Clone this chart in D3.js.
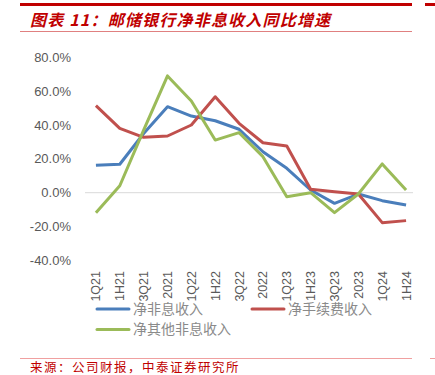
<!DOCTYPE html>
<html>
<head>
<meta charset="utf-8">
<style>
  body { margin: 0; background: #fff; font-family: "Liberation Sans", "Noto Sans CJK SC", sans-serif; }
</style>
<title>邮储银行净非息收入同比增速</title>
</head>
<body>
<script src="https://cdn.jsdelivr.net/npm/d3@7"></script>
<script>

// data (% yoy)
var periods = ["1Q21","1H21","3Q21","2021","1Q22","1H22","3Q22","2022","1Q23","1H23","3Q23","2023","1Q24","1H24"];
var nonInterest = [16.2, 16.8, 35.0, 50.8, 45.3, 42.5, 37.5, 24.2, 14.4, 1.6, -6.3, -0.8, -4.7, -7.3];
var feeIncome   = [51.4, 38.0, 32.7, 33.5, 40.0, 56.7, 41.0, 29.5, 27.6, 2.0, 0.6, -0.8, -17.7, -16.5];
var otherIncome = [-11.8, 4.1, 37.0, 69.0, 54.2, 31.1, 35.5, 21.3, -2.4, 0.0, -11.8, -0.8, 17.0, 1.6];
var yTicks = [-40, -20, 0, 20, 40, 60, 80];
var seriesNames = ["净非息收入", "净手续费收入", "净其他非息收入"];

var W = 435, H = 375;
var svg = d3.select("body").append("svg")
  .attr("width", W)
  .attr("height", H);

// header
svg.append("rect").attr("x", 20).attr("y", 3).attr("width", 392).attr("height", 3).attr("fill", "#c00000");
svg.append("rect").attr("x", 425).attr("y", 3).attr("width", 10).attr("height", 3).attr("fill", "#c00000");
svg.append("line").attr("x1", 20).attr("x2", 412).attr("y1", 31.5).attr("y2", 31.5)
  .attr("stroke", "#e08080").attr("stroke-width", 1);
svg.append("text")
  .attr("x", 30).attr("y", 26)
  .attr("fill", "#c00000")
  .style("font-family", "'Noto Sans CJK SC', sans-serif")
  .style("font-size", "16px").style("font-weight", "bold").style("font-style", "italic")
  .style("letter-spacing", "1.2px")
  .text("图表 11：邮储银行净非息收入同比增速");

var x = d3.scalePoint().domain(periods).range([84, 418]).padding(0.5);
var y = d3.scaleLinear().domain([-40, 80]).range([260.4, 57.3]);

// zero line
svg.append("line")
  .attr("x1", 85).attr("x2", 413)
  .attr("y1", y(0)).attr("y2", y(0))
  .attr("stroke", "#d9d9d9").attr("stroke-width", 1);

// y labels
svg.selectAll(".ytick")
  .data(yTicks)
  .enter().append("text")
  .attr("x", 71)
  .attr("y", function(d) { return y(d); })
  .attr("dy", "0.35em")
  .attr("text-anchor", "end")
  .attr("fill", "#595959")
  .style("font-size", "13px")
  .text(function(d) { return d.toFixed(1) + "%"; });

// x labels, rotated
svg.selectAll(".xtick")
  .data(periods)
  .enter().append("text")
  .attr("transform", function(d) { return "translate(" + (x(d) + 4.5) + ",271) rotate(-90)"; })
  .attr("text-anchor", "end")
  .attr("fill", "#595959")
  .style("font-size", "12.5px")
  .text(function(d) { return d; });

var colors = ["#4a7ebb", "#c0504d", "#9bbb59"];
var allSeries = [nonInterest, feeIncome, otherIncome];

var line = d3.line()
  .x(function(d, i) { return x(periods[i]); })
  .y(function(d) { return y(d); });

allSeries.forEach(function(s, k) {
  svg.append("path")
    .datum(s)
    .attr("d", line)
    .attr("fill", "none")
    .attr("stroke", colors[k])
    .attr("stroke-width", 3)
    .attr("stroke-linejoin", "round");
});

// legend
var legendPos = [[97, 309], [252, 309], [97, 329.5]];
seriesNames.forEach(function(name, k) {
  var p = legendPos[k];
  svg.append("line")
    .attr("x1", p[0]).attr("x2", p[0] + 32)
    .attr("y1", p[1]).attr("y2", p[1])
    .attr("stroke", colors[k]).attr("stroke-width", 3).attr("stroke-linecap", "round");
  svg.append("text")
    .attr("x", p[0] + 36).attr("y", p[1])
    .attr("dy", "0.35em")
    .attr("fill", "#8a8a8a")
    .style("font-family", "'Noto Sans CJK SC', sans-serif")
    .style("font-size", "14px")
    .text(name);
});

// footer
svg.append("line").attr("x1", 20).attr("x2", 412).attr("y1", 358.5).attr("y2", 358.5)
  .attr("stroke", "#f0a0a0").attr("stroke-width", 1);
svg.append("line").attr("x1", 430).attr("x2", 435).attr("y1", 358.5).attr("y2", 358.5)
  .attr("stroke", "#f0a0a0").attr("stroke-width", 1);
svg.append("text")
  .attr("x", 30).attr("y", 372)
  .attr("fill", "#c00000")
  .style("font-family", "'Noto Sans CJK SC', sans-serif")
  .style("font-size", "12.5px")
  .style("letter-spacing", "1.5px")
  .text("来源：公司财报，中泰证券研究所");

</script>
</body>
</html>
